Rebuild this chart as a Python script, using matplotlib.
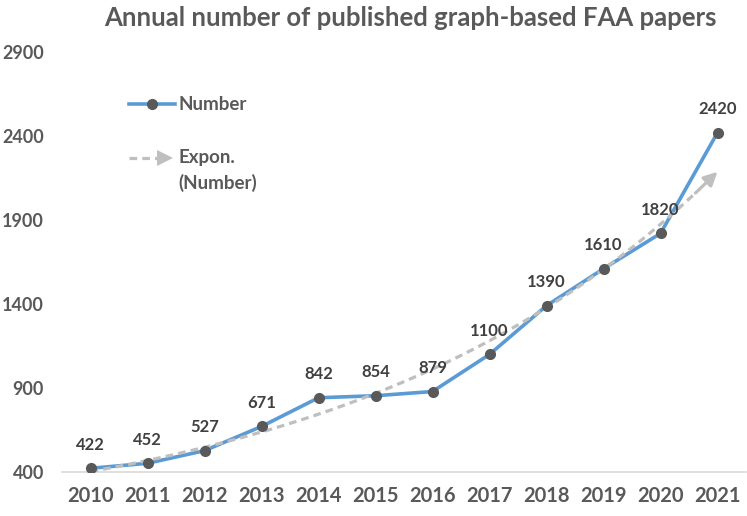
import numpy as np
import matplotlib.pyplot as plt
from matplotlib.lines import Line2D

years = ["2010", "2011", "2012", "2013", "2014", "2015",
         "2016", "2017", "2018", "2019", "2020", "2021"]
papers = [422, 452, 527, 671, 842, 854, 879, 1100, 1390, 1610, 1820, 2420]
yticks = [400, 900, 1400, 1900, 2400, 2900]

plt.rcParams['font.family'] = ['Lato', 'DejaVu Sans']
plt.rcParams['font.weight'] = 'bold'

txt = "#595959"
blue = "#5B9BD5"
grey = "#BFBFBF"

x = np.arange(len(years))
y = np.array(papers, dtype=float)

# exponential trendline (Excel style): ln(y) = a + b*x
b, a = np.polyfit(x, np.log(y), 1)
xt = np.linspace(0, len(x) - 1, 200)
yt = np.exp(a + b * xt)

fig = plt.figure(figsize=(7.47, 5.16), dpi=100)
ax = fig.add_axes([62 / 747, 44 / 516, 684 / 747, 420 / 516])

ax.plot(x, y, color=blue, linewidth=2.6, zorder=2)
stop = xt <= len(x) - 1.35
ax.plot(xt[stop], yt[stop], color=grey, linewidth=2.3, linestyle=(0, (2.4, 1.6)),
        zorder=3)
ax.annotate("", xy=(xt[-1], yt[-1]), xytext=(xt[stop][-1], yt[stop][-1]),
            arrowprops=dict(arrowstyle="-|>", color=grey, lw=2.3,
                            mutation_scale=20, shrinkA=0, shrinkB=0),
            zorder=3)
ax.plot(x, y, linestyle="none", marker="o", markersize=7,
        color="#595959", zorder=4)

for xi, yi in zip(x, papers):
    ax.annotate(str(yi), (xi, yi), xytext=(0, 11), textcoords="offset points",
                ha="center", va="bottom", fontsize=12, color="#404040",
                fontweight="bold", zorder=5)

ax.set_xlim(-0.5, len(x) - 0.5)
ax.set_ylim(400, 2900)
ax.set_xticks(x)
ax.set_xticklabels(years, fontsize=14.5, color=txt, fontweight="bold")
ax.set_yticks(yticks)
ax.set_yticklabels([str(v) for v in yticks], fontsize=13, color=txt,
                   fontweight="bold")
ax.tick_params(axis="both", length=0)
ax.tick_params(axis="y", pad=13)
ax.tick_params(axis="x", pad=10)
for s in ["top", "right", "left"]:
    ax.spines[s].set_visible(False)
ax.spines["bottom"].set_color("#D9D9D9")
ax.spines["bottom"].set_linewidth(1.2)
ax.spines["bottom"].set_zorder(1)

fig.text(0.55, 0.965, "Annual number of published graph-based FAA papers",
         ha="center", va="center", fontsize=18.5, color=txt, fontweight="bold")

# legend drawn in figure pixels
def fx(px):
    return px / 747

def fy(py):
    return 1 - py / 516

fig.add_artist(Line2D([fx(129), fx(175)], [fy(104), fy(104)], color=blue,
                      linewidth=2.6))
fig.add_artist(Line2D([fx(152)], [fy(104)], marker="o", markersize=7,
                      color="#595959"))
fig.text(fx(178), fy(104), "Number", ha="left", va="center", fontsize=13.5,
         color=txt, fontweight="bold")
fig.add_artist(Line2D([fx(129), fx(158)], [fy(158), fy(158)], color=grey,
                      linewidth=2.3, linestyle=(0, (2.4, 1.6))))
fig.add_artist(Line2D([fx(165)], [fy(158)], marker=">", markersize=11,
                      color=grey, markeredgewidth=0))
fig.text(fx(178), fy(158), "Expon.", ha="left", va="center", fontsize=13.5,
         color=txt, fontweight="bold")
fig.text(fx(178), fy(183), "(Number)", ha="left", va="center", fontsize=13.5,
         color=txt, fontweight="bold")

fig.savefig("out.png", dpi=100)
